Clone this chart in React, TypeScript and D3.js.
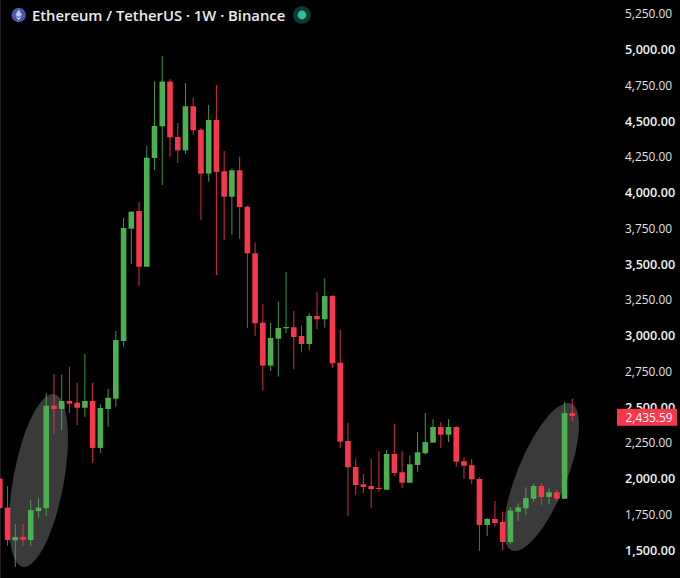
import React from "react";
import * as d3 from "d3";

const W = 680, H = 578;
const titleText = "Ethereum / TetherUS · 1W · Binance";
const lastPrice = 2435.59;
const tickValues = [5250, 5000, 4750, 4500, 4250, 4000, 3750, 3500, 3250, 3000, 2750, 2500, 2250, 2000, 1750, 1500];
const boldTicks = [5000, 4500, 4000, 3500, 3000, 2500, 2000, 1500];

const opens = [1998,1796,1568,1591,1570,1772,1793,2508,2485,2541,2529,2494,2541,2213,2485,2557,2960,3745,3868,3479,4239,4460,4772,4385,4292,4600,4436,4129,4504,4146,3968,4153,3898,3573,3088,2788,2976,3049,3056,2995,2939,3135,3112,3274,2808,2261,2080,1959,1947,1933,1921,2171,2043,1970,2094,2176,2250,2359,2305,2359,2120,2092,1996,1675,1717,1696,1556,1768,1791,1858,1947,1870,1903,1858,2457];
const highs = [2003,1947,1682,1682,1849,1863,2599,2730,2725,2781,2669,2869,2669,2520,2625,3030,3819,3868,3931,4322,4776,4951,4790,4483,4762,4660,4448,4609,4748,4287,4167,4248,3905,3650,3219,3088,3235,3442,3170,3067,3154,3302,3398,3280,3037,2389,2138,2031,2138,2190,2199,2380,2190,2162,2324,2457,2413,2394,2413,2366,2148,2134,2008,1724,1842,1768,1798,1826,1938,1961,1968,1931,1919,2534,2557];
const lows = [1790,1528,1381,1528,1528,1724,1738,2310,2338,2457,2373,2429,2108,2178,2361,2501,2920,3498,3344,3479,4155,4050,4248,4204,4266,4401,3805,4073,3421,3666,3703,3673,3051,2995,2613,2750,2711,3016,2764,2881,2897,3044,3053,2774,2213,1740,1884,1896,1793,1907,1919,2017,1931,1970,2047,2166,2250,2213,2254,2082,1998,1961,1493,1598,1663,1500,1540,1703,1742,1837,1814,1819,1842,1858,2396];
const closes = [1793,1570,1591,1572,1779,1796,2508,2485,2541,2522,2494,2541,2213,2492,2564,2967,3750,3863,3479,4241,4462,4772,4383,4292,4600,4432,4129,4504,4141,3968,4153,3896,3573,3084,2788,2981,3051,3058,2988,2939,3135,3112,3274,2804,2257,2078,1954,1940,1926,1926,2171,2038,1970,2099,2183,2254,2359,2305,2359,2117,2089,1994,1675,1717,1689,1556,1775,1798,1863,1947,1870,1903,1858,2457,lastPrice];

const greenBody = "#4CAF50";
const redBody = "#F7374C";
const uiFont = "'Open Sans', 'Noto Sans', sans-serif";

const y = d3.scaleLinear().domain([1500, 5000]).range([550, 49]);
const x = d3.scaleLinear().domain([-1, 73]).range([-0.2, 572.3]);
const candleIndex = d3.range(opens.length);
const fmt = d3.format(",.2f");
const bodyW = 5.6;

function rotatedEllipse(cx: number, cy: number, rx: number, ry: number, deg: number) {
  return <ellipse cx={cx} cy={cy} rx={rx} ry={ry} fill="#3a3a3a" transform={`rotate(${deg} ${cx} ${cy})`} />;
}

export default function App() {
  return (
    <svg width={W} height={H} viewBox={`0 0 ${W} ${H}`}
      style={{ position: "fixed", left: 0, top: 0, background: "#000", display: "block" }}>
      <rect width={W} height={H} fill="#000" />
      {rotatedEllipse(38.5, 480.5, 25.3, 87.8, 10.35)}
      {rotatedEllipse(541.5, 477, 24.8, 79.2, 22)}
      <rect x={0} y={0} width={0.8} height={H} fill="#2a2a2a" />
      {candleIndex.map((i) => {
        const o = opens[i], c = closes[i];
        const up = c >= o;
        const col = up ? greenBody : redBody;
        const cx = x(i - 1);
        const top = y(Math.max(o, c)), bot = y(Math.min(o, c));
        return (
          <g key={i}>
            <line x1={cx} x2={cx} y1={y(highs[i])} y2={y(lows[i])} stroke={col} strokeWidth={1} strokeOpacity={0.85} />
            <rect x={cx - bodyW / 2} y={top} width={bodyW} height={Math.max(bot - top, 1)} fill={col} />
          </g>
        );
      })}
      {tickValues.map((t) => {
        const bold = boldTicks.includes(t);
        return (
          <text key={t} x={625} y={y(t) + 0.5} dy="0.36em" fill={bold ? "#f4f4f4" : "#e4e4e4"} fontFamily={uiFont}
            fontWeight={bold ? 600 : 400} fontSize={bold ? 12.6 : 11.9}>
            {fmt(t)}
          </text>
        );
      })}
      <rect x={617} y={408.8} width={60} height={17} fill={redBody} />
      <text x={625.5} y={417.5} dy="0.36em" fill="#fff" fontFamily={uiFont} fontSize={11.9}>
        {fmt(lastPrice)}
      </text>
      <circle cx={18.7} cy={15} r={7.2} fill="#4a5aa8" />
      <path d="M18.7 9.6 L22 15 L18.7 17 L15.4 15 Z" fill="#b9c6ee" />
      <path d="M15.6 15.9 L18.7 17.9 L21.8 15.9 L18.7 20.3 Z" fill="#dbe2f7" />
      <text x={32} y={21} fill="#ececec" fontFamily={uiFont} fontWeight={600} fontSize={14.8}>
        {titleText}
      </text>
      <circle cx={302} cy={15} r={9} fill="#0c3a33" />
      <circle cx={302} cy={15} r={4.4} fill="#2ebd9b" />
    </svg>
  );
}
